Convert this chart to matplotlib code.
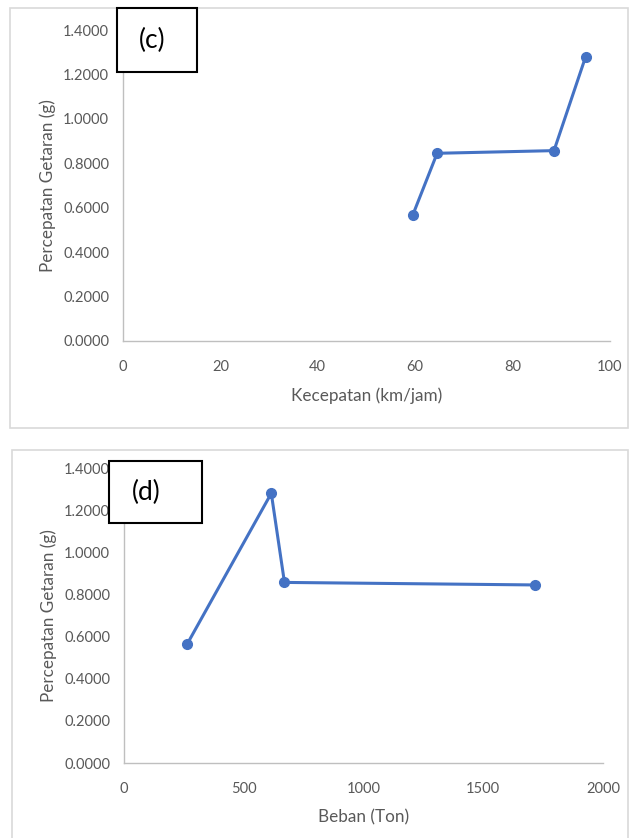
import matplotlib
matplotlib.use("Agg")
import matplotlib.pyplot as plt
from matplotlib.patches import Rectangle

plt.rcParams['font.family'] = ['Lato', 'DejaVu Sans']

# Data
speed_kmh = [59.5, 64.5, 88.5, 95.0]
accel_by_speed = [0.567, 0.845, 0.857, 1.280]
load_ton = [265, 615, 670, 1715]
accel_by_load = [0.567, 1.280, 0.857, 0.845]

y_ticks = [0.0, 0.2, 0.4, 0.6, 0.8, 1.0, 1.2, 1.4]
speed_ticks = [0, 20, 40, 60, 80, 100]
load_ticks = [0, 500, 1000, 1500, 2000]

W, H = 630, 838
fig = plt.figure(figsize=(W / 100, H / 100), dpi=100)

LINE = '#4472C4'
TXT = '#595959'
SPINE = '#BFBFBF'


def px_rect(x0, y0, x1, y1):
    return [x0 / W, 1 - y1 / H, (x1 - x0) / W, (y1 - y0) / H]


def frame(x0, y0, x1, y1):
    fig.add_artist(Rectangle((x0 / W, 1 - y1 / H), (x1 - x0) / W, (y1 - y0) / H,
                             transform=fig.transFigure, fill=False,
                             edgecolor='#D9D9D9', linewidth=1.2))


def panel(rect, x, y, xticks, xlabel, tag, tagbox, tag_cx):
    ax = fig.add_axes(px_rect(*rect))
    ax.plot(x, y, color=LINE, linewidth=2.2, marker='o', markersize=7,
            markerfacecolor=LINE, markeredgecolor=LINE, clip_on=False, zorder=3)
    ax.set_xlim(xticks[0], xticks[-1])
    ax.set_ylim(0, 1.4)
    ax.set_xticks(xticks)
    ax.set_yticks(y_ticks)
    ax.set_yticklabels([f"{v:.4f}" for v in y_ticks])
    ax.tick_params(length=0, labelsize=10.5, labelcolor=TXT)
    ax.tick_params(axis='x', pad=14)
    ax.tick_params(axis='y', pad=10)
    for s in ['top', 'right']:
        ax.spines[s].set_visible(False)
    for s in ['left', 'bottom']:
        ax.spines[s].set_color(SPINE)
        ax.spines[s].set_linewidth(1.0)
    ax.set_xlabel(xlabel, fontsize=12.3, color=TXT, labelpad=9)
    ax.set_ylabel("Percepatan Getaran (g)", fontsize=12.3, color=TXT, labelpad=5)
    # tag box
    bx0, by0, bx1, by1 = tagbox
    fig.add_artist(Rectangle((bx0 / W, 1 - by1 / H), (bx1 - bx0) / W, (by1 - by0) / H,
                             transform=fig.transFigure, facecolor='white',
                             edgecolor='black', linewidth=1.5, zorder=5))
    fig.text(tag_cx / W, 1 - ((by0 + by1) / 2) / H, tag, fontsize=19,
             ha='center', va='center', color='black', zorder=6)
    return ax


frame(10, 8, 628, 428)
frame(12, 450, 628, 845)

panel((123, 30, 610, 341), speed_kmh, accel_by_speed, speed_ticks,
      "Kecepatan (km/jam)", "(c)", (117, 8, 197, 72), 152)
panel((124, 468, 603, 763), load_ton, accel_by_load, load_ticks,
      "Beban (Ton)", "(d)", (109, 461, 202, 523), 146)

fig.savefig("out.png", dpi=100)
